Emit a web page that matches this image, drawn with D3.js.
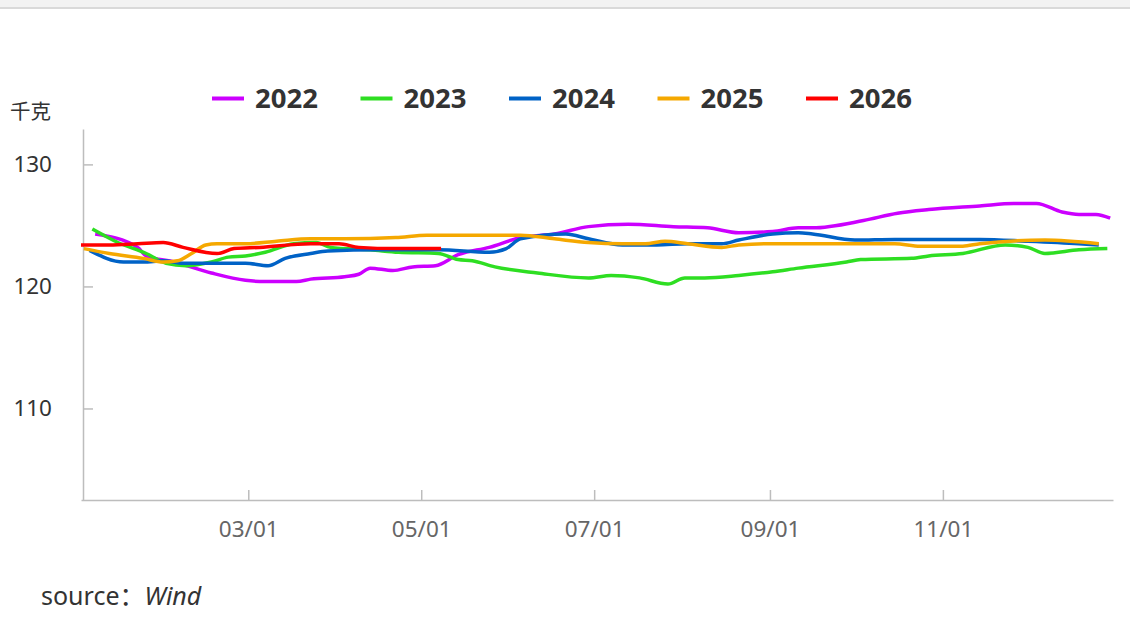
<!DOCTYPE html>
<html>
<head>
<meta charset="utf-8">
<script src="https://cdn.jsdelivr.net/npm/d3@7"></script>
<style>
  html, body { margin: 0; padding: 0; background: #fff; }
  svg { display: block; font-family: "Noto Sans", "Noto Sans CJK SC", sans-serif; }
</style>
</head>
<body>
<svg id="chart" width="1130" height="624"></svg>
<script>
// season chart: one line per year, all drawn on a Jan..Dec axis
const years = ["2022", "2023", "2024", "2025", "2026"]
const colors = ["#cc00ff", "#2ede22", "#0062c6", "#f5a800", "#ff0000"]

const dates2022 = ["01-06","01-21","01-24","02-03","02-16","02-28","03-07","03-18","03-23","04-04","04-09","04-13","04-21","04-28","05-06","05-14","05-25","06-05","06-17","06-29","07-13","07-29","08-10","08-21","09-02","09-11","09-16","10-04","10-16","10-27","11-14","11-26","12-04","12-13","12-19","12-25","12-30"]
const values2022 = [124.3,123.2,122.5,122.0,121.1,120.5,120.4,120.4,120.6,120.8,121.0,121.5,121.3,121.6,121.7,122.6,123.2,124.0,124.3,124.9,125.1,124.9,124.8,124.4,124.5,124.8,124.8,125.4,126.0,126.3,126.6,126.8,126.8,126.1,125.9,125.9,125.6]

const dates2023 = ["01-05","01-14","01-24","01-31","02-07","02-16","02-22","02-28","03-07","03-17","03-25","03-30","04-13","04-23","05-07","05-14","05-19","05-27","06-11","06-29","07-07","07-17","07-27","08-02","08-09","08-21","09-02","09-11","09-28","10-03","10-21","10-27","11-08","11-23","12-01","12-07","12-19","12-29"]
const values2023 = [124.7,123.6,122.7,121.9,121.7,122.0,122.4,122.5,122.8,123.5,123.6,123.2,123.0,122.8,122.7,122.2,122.1,121.6,121.1,120.7,120.9,120.7,120.2,120.7,120.7,120.9,121.2,121.5,122.0,122.2,122.3,122.5,122.7,123.4,123.2,122.7,123.0,123.1]

const dates2024 = ["01-04","01-16","01-23","01-30","02-06","02-18","02-28","03-08","03-14","03-23","03-29","04-16","05-07","05-25","05-31","06-05","06-21","06-29","07-11","07-23","08-03","08-15","08-21","09-02","09-11","09-16","10-01","10-15","11-14","12-01","12-19","12-26"]
const values2024 = [122.95,122.0,122.0,122.1,121.9,121.9,121.9,121.7,122.3,122.7,122.9,123.0,123.0,122.8,123.1,123.9,124.3,123.9,123.4,123.4,123.5,123.5,123.8,124.3,124.4,124.3,123.8,123.85,123.85,123.7,123.5,123.4]

const dates2025 = ["01-02","01-11","01-23","01-30","02-04","02-09","02-14","02-18","02-28","03-11","03-23","04-04","04-22","05-03","06-05","06-17","06-29","07-11","07-19","07-26","08-03","08-15","08-21","09-02","10-15","10-24","11-08","11-14","12-07","12-26"]
const values2025 = [123.1,122.7,122.3,122.0,122.1,122.7,123.4,123.5,123.5,123.7,123.9,123.9,124.0,124.2,124.2,123.9,123.6,123.5,123.5,123.7,123.5,123.2,123.4,123.5,123.5,123.3,123.3,123.5,123.8,123.5]

const dates2026 = ["01-01","01-11","01-21","01-30","02-06","02-18","02-24","03-05","03-23","04-02","04-09","04-22","05-08"]
const values2026 = [123.4,123.4,123.5,123.6,123.2,122.7,123.1,123.2,123.5,123.5,123.2,123.1,123.1]

const yTicks = [110, 120, 130]
const xTicks = ["03-01", "05-01", "07-01", "09-01", "11-01"]

const parseMD = d3.timeParse("%Y-%m-%d")
const md = s => parseMD("2022-" + s)

const series = [
  {name: years[0], dates: dates2022, values: values2022},
  {name: years[1], dates: dates2023, values: values2023},
  {name: years[2], dates: dates2024, values: values2024},
  {name: years[3], dates: dates2025, values: values2025},
  {name: years[4], dates: dates2026, values: values2026},
]

const svg = d3.select("#chart")

// grey strip at the very top
svg.append("rect").attr("x", 0).attr("y", 0).attr("width", 1130).attr("height", 7).attr("fill", "#f2f2f2")
svg.append("rect").attr("x", 0).attr("y", 7).attr("width", 1130).attr("height", 2).attr("fill", "#d9d9d9")

var x = d3.scaleTime()
  .domain([md("01-01"), md("12-31")])
  .range([81, 1113])
var y = d3.scaleLinear()
  .domain([102.5, 132.9])
  .range([500, 129])

// X axis
const gx = svg.append("g")
  .attr("transform", "translate(0,500)")
  .call(d3.axisBottom(x)
    .tickValues(xTicks.map(md))
    .tickFormat(d3.timeFormat("%m/%d"))
    .tickSize(-10)
    .tickSizeOuter(0)
    .tickPadding(21))
gx.select(".domain").attr("stroke", "#bdbdbd").attr("stroke-width", 1.5)
gx.selectAll(".tick line").attr("stroke", "#bdbdbd").attr("stroke-width", 1.5)
gx.selectAll(".tick text")
  .attr("fill", "#666")
  .attr("font-size", 22.5)
  .attr("font-family", "Noto Sans")

// Y axis
const gy = svg.append("g")
  .attr("transform", "translate(83,0)")
  .call(d3.axisLeft(y)
    .tickValues(yTicks)
    .tickSize(-10)
    .tickSizeOuter(0)
    .tickPadding(31))
gy.select(".domain").attr("stroke", "#bdbdbd").attr("stroke-width", 1.5)
gy.selectAll(".tick line").attr("stroke", "#bdbdbd").attr("stroke-width", 1.5)
gy.selectAll(".tick text")
  .attr("fill", "#333")
  .attr("font-size", 22.5)
  .attr("font-family", "Noto Sans")

// unit label
svg.append("text")
  .attr("x", 10).attr("y", 119)
  .attr("font-family", "Noto Sans CJK SC")
  .attr("font-size", 20.5)
  .attr("fill", "#333")
  .text("千克")

// the lines
const line = d3.line()
  .x(d => x(d.date))
  .y(d => y(d.value))
  .curve(d3.curveMonotoneX)

series.forEach((s, i) => {
  const pts = s.dates.map((dt, j) => ({date: md(dt), value: s.values[j]}))
  svg.append("path")
    .datum(pts)
    .attr("fill", "none")
    .attr("stroke", colors[i])
    .attr("stroke-width", 3.5)
    .attr("stroke-linejoin", "round")
    .attr("d", line)
})

// legend
const legend = svg.append("g")
years.forEach((yr, i) => {
  const lx = 212 + i * 148.5
  legend.append("rect")
    .attr("x", lx).attr("y", 96.5)
    .attr("width", 32).attr("height", 4)
    .attr("fill", colors[i])
  legend.append("text")
    .attr("x", lx + 43).attr("y", 107.5)
    .attr("font-family", "Noto Sans")
    .attr("font-weight", "bold")
    .attr("font-size", 27.5)
    .attr("fill", "#333")
    .text(yr)
})

// source note
const src = svg.append("text")
  .attr("x", 41).attr("y", 605)
  .attr("font-family", "Noto Sans, Noto Sans CJK SC")
  .attr("font-size", 25)
  .attr("fill", "#333")
src.append("tspan").text("source：")
src.append("tspan").attr("font-style", "italic").text("Wind")
</script>
</body>
</html>
